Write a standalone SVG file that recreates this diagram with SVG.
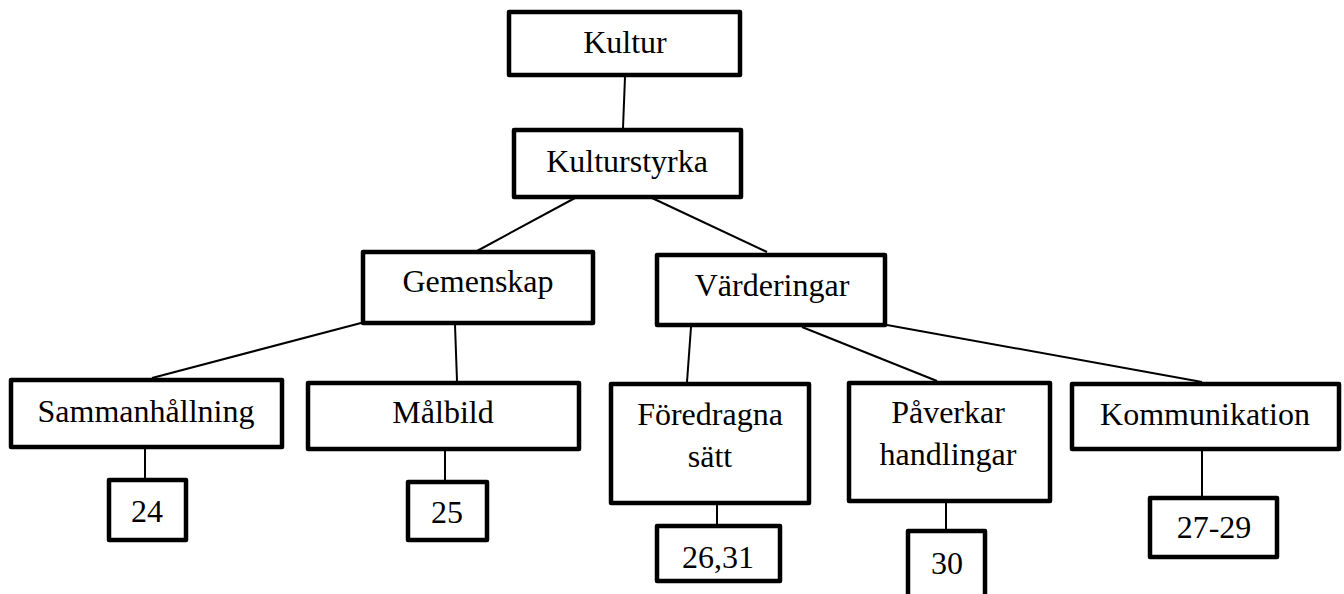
<svg xmlns="http://www.w3.org/2000/svg" width="1344" height="594" viewBox="0 0 1344 594">
<style>
  .box { fill: #fff; stroke: #000; stroke-width: 4.5; stroke-linejoin: round; }
  .lbl { font-family: "Liberation Serif", "Times New Roman", serif; font-size: 32px; fill: #000; text-anchor: middle; }
  .conn line { stroke: #000; stroke-width: 2; }
</style>
<rect x="0" y="0" width="1344" height="594" fill="#fff"/>
<g id="connectors" class="conn">
  <line x1="625" y1="77" x2="623" y2="128"/>
  <line x1="575" y1="198" x2="477" y2="251"/>
  <line x1="652" y1="198" x2="767" y2="252"/>
  <line x1="361" y1="323" x2="152" y2="378"/>
  <line x1="455" y1="325" x2="457" y2="381"/>
  <line x1="691" y1="327" x2="687" y2="382"/>
  <line x1="802" y1="327" x2="937" y2="381"/>
  <line x1="887" y1="325" x2="1202" y2="382"/>
  <line x1="145" y1="449" x2="145" y2="478"/>
  <line x1="445" y1="451" x2="445" y2="480"/>
  <line x1="717" y1="505" x2="717" y2="524"/>
  <line x1="946" y1="503" x2="946" y2="531"/>
  <line x1="1202" y1="451" x2="1202" y2="496"/>
</g>
<g id="kultur"><rect class="box" x="509" y="12" width="231" height="63"/><text class="lbl" x="625" y="53">Kultur</text></g>
<g id="kulturstyrka"><rect class="box" x="514" y="130" width="227" height="67"/><text class="lbl" x="627" y="172">Kulturstyrka</text></g>
<g id="gemenskap"><rect class="box" x="363" y="252" width="230" height="71"/><text class="lbl" x="478" y="292">Gemenskap</text></g>
<g id="varderingar"><rect class="box" x="657" y="255" width="228" height="70"/><text class="lbl" x="772" y="296">Värderingar</text></g>
<g id="sammanhallning"><rect class="box" x="11" y="380" width="271" height="67"/><text class="lbl" x="146" y="422">Sammanhållning</text></g>
<g id="malbild"><rect class="box" x="308" y="383" width="271" height="66"/><text class="lbl" x="443" y="423">Målbild</text></g>
<g id="foredragna"><rect class="box" x="611" y="384" width="198" height="119"/><text class="lbl" x="710" y="425">Föredragna</text><text class="lbl" x="710" y="467">sätt</text></g>
<g id="paverkar"><rect class="box" x="849" y="383" width="201" height="118"/><text class="lbl" x="948" y="423">Påverkar</text><text class="lbl" x="948" y="465">handlingar</text></g>
<g id="kommunikation"><rect class="box" x="1072" y="384" width="267" height="65"/><text class="lbl" x="1205" y="425">Kommunikation</text></g>
<g id="n24"><rect class="box" x="109" y="480" width="77" height="60"/><text class="lbl" x="147" y="522">24</text></g>
<g id="n25"><rect class="box" x="408" y="482" width="79" height="58"/><text class="lbl" x="447" y="523">25</text></g>
<g id="n2631"><rect class="box" x="657" y="526" width="123" height="55"/><text class="lbl" x="718" y="568">26,31</text></g>
<g id="n30"><rect class="box" x="908" y="531" width="77" height="70"/><text class="lbl" x="947" y="574">30</text></g>
<g id="n2729"><rect class="box" x="1150" y="498" width="127" height="59"/><text class="lbl" x="1214" y="538">27-29</text></g>
</svg>
